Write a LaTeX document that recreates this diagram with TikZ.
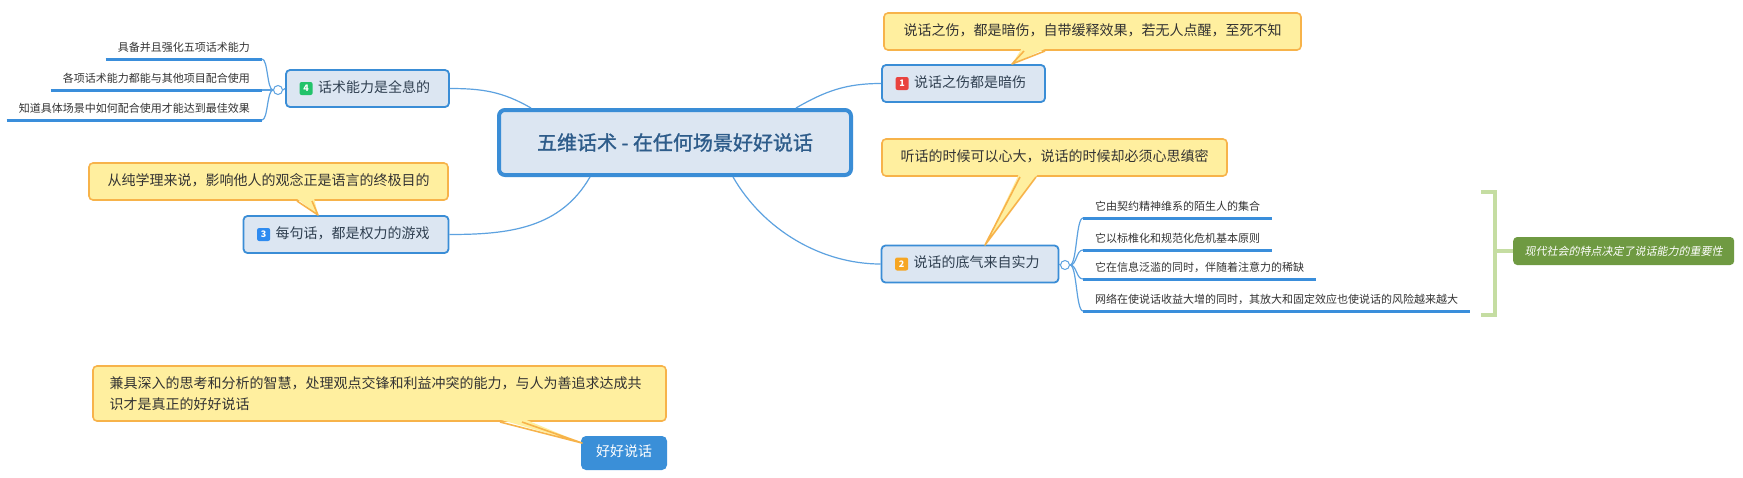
\documentclass[tikz,border=0pt]{standalone}
\usepackage{fontspec}
\newfontfamily\cjk{Noto Sans CJK SC}
\newfontfamily\cjkheavy[FakeBold=1.2]{Noto Sans CJK SC}
\newfontfamily\cjkit[FakeSlant=0.2]{Noto Sans CJK SC}
\usetikzlibrary{calc}
\definecolor{linkblue}{HTML}{5DA2E0}
\definecolor{topicfill}{HTML}{DCE6F2}
\definecolor{topicdraw}{HTML}{3A8DD6}
\definecolor{topictext}{HTML}{2F3F50}
\definecolor{centertext}{HTML}{2E5C8A}
\definecolor{notefill}{HTML}{FFEF9F}
\definecolor{notedraw}{HTML}{F7B34A}
\definecolor{notetext}{HTML}{333333}
\definecolor{ulblue}{HTML}{3A8EDB}
\definecolor{brk}{HTML}{C5DDA2}
\definecolor{sumfill}{HTML}{6F9A42}
\definecolor{bred}{HTML}{E9433F}
\definecolor{borange}{HTML}{F6A623}
\definecolor{bblue}{HTML}{2E8BF0}
\definecolor{bgreen}{HTML}{22C36A}
\definecolor{endfill}{HTML}{3A8FD8}
\begin{document}
\begin{tikzpicture}[x=1pt,y=-1pt,
  centerbox/.style={draw=topicdraw, line width=4pt, fill=topicfill, rounded corners=6pt,
    minimum width=352pt, minimum height=65pt, inner sep=0pt, text=centertext,
    font={\cjkheavy\fontsize{20}{24}\selectfont}},
  topic/.style={draw=topicdraw, line width=1.8pt, fill=topicfill, rounded corners=4pt,
    minimum height=37pt, inner xsep=19pt, inner ysep=0pt, text=topictext,
    text height=0.85em, text depth=0.1em,
    font={\cjk\fontsize{14}{17}\selectfont}},
  badge/.style={fill=#1, rounded corners=2pt, minimum size=13pt, inner sep=0pt,
    text=white, font={\cjk\bfseries\fontsize{9}{10}\selectfont}},
  note/.style={draw=notedraw, line width=1.6pt, fill=notefill, rounded corners=4pt,
    minimum height=37pt, inner sep=0pt, text=notetext,
    text height=0.85em, text depth=0.1em,
    font={\cjk\fontsize{14}{17}\selectfont}},
  notetip/.style={fill=notefill},
  notetipline/.style={draw=notedraw, line width=1.6pt, line join=round},
  sub/.style={inner xsep=12pt, inner ysep=7pt, text height=0.85em, text depth=0pt,
    text=notetext, font={\cjk\fontsize{11}{13}\selectfont}},
  uline/.style={draw=ulblue, line width=3pt},
  link/.style={draw=linkblue, line width=1.2pt},
  knob/.style={circle, draw=linkblue, line width=1pt, fill=white, minimum size=9pt, inner sep=0pt},
  bracketline/.style={draw=brk, line width=4pt},
  summary/.style={fill=sumfill, rounded corners=4pt, minimum width=221pt, minimum height=28pt,
    inner sep=0pt, text=white, font={\cjkit\fontsize{11}{13}\selectfont}},
  endnode/.style={fill=endfill, rounded corners=5pt, minimum width=86pt, minimum height=34pt,
    inner sep=0pt, text=white, text height=0.85em, text depth=0.1em,
    font={\cjk\fontsize{14}{17}\selectfont}}
]
\useasboundingbox[fill=white] (0,0) rectangle (1743,477);

% central topic
\node[centerbox] (c) at (675,142.5) {五维话术 - 在任何场景好好说话};

% main topics
\node[topic, minimum width=161pt] (n1) at (963.5,83.5) {\hspace*{13pt}说话之伤都是暗伤};
\node[badge=bred] (b1) at ($(n1.west)+(21,0)$) {1};
\node[topic, minimum width=161pt] (n4) at (367.5,88.5) {\hspace*{13pt}话术能力是全息的};
\node[badge=bgreen] (b4) at ($(n4.west)+(21,0)$) {4};
\node[topic, minimum width=204pt] (n3) at (346,234.5) {\hspace*{13pt}每句话，都是权力的游戏};
\node[badge=bblue] (b3) at ($(n3.west)+(21,0)$) {3};
\node[topic, minimum width=174pt] (n2) at (970,264) {\hspace*{13pt}说话的底气来自实力};
\node[badge=borange] (b2) at ($(n2.west)+(21,0)$) {2};

% connectors from central topic
\draw[link] ($(c.north west)+(34,0)$) to[out=150,in=0] (n4.east);
\draw[link] ($(c.north east)+(-57,0)$) to[out=30,in=180] (n1.west);
\draw[link] ($(c.south west)+(93,0)$) to[out=-120,in=0] (n3.east);
\draw[link] ($(c.south west)+(236,0)$) to[out=-60,in=180,looseness=0.9] (n2.west);

% notes (callouts)
\node[note, minimum width=417pt] (m1) at (1092.5,31.5) {说话之伤，都是暗伤，自带缓释效果，若无人点醒，至死不知};
\fill[notetip] (1022,48) -- (1012,64) -- (1047,48) -- cycle;
\draw[notetipline] (1024,51) -- (1012,64) -- (1045,51);

\node[note, minimum width=359pt] (m3) at (268.5,181.5) {从纯学理来说，影响他人的观念正是语言的终极目的};
\fill[notetip] (296,198) -- (318,215) -- (314,198) -- cycle;
\draw[notetipline] (297,201) -- (318,215) -- (312,201);

\node[note, minimum width=345pt] (m2) at (1054.5,157.5) {听话的时候可以心大，说话的时候却必须心思缜密};
\fill[notetip] (1019,174) -- (985,245) -- (1038,174) -- cycle;
\draw[notetipline] (1020,177) -- (985,245) -- (1036,177);

% subtopics of topic 4
\node[sub, anchor=south east] (s41) at (262,59) {具备并且强化五项话术能力};
\node[sub, anchor=south east] (s42) at (262,90) {各项话术能力都能与其他项目配合使用};
\node[sub, anchor=south east] (s43) at (262,120) {知道具体场景中如何配合使用才能达到最佳效果};
\foreach \s in {s41,s42,s43} \draw[uline] (\s.south west) -- (\s.south east);
\node[knob] (k4) at (278,90) {};
\draw[link] (n4.west) -- (k4.east);
\draw[link] (k4.west) .. controls +(-6,0) and +(6,0) .. (s41.south east);
\draw[link] (k4.west) -- (s42.south east);
\draw[link] (k4.west) .. controls +(-6,0) and +(6,0) .. (s43.south east);

% subtopics of topic 2
\node[sub, anchor=south west] (s21) at (1083,218) {它由契约精神维系的陌生人的集合};
\node[sub, anchor=south west] (s22) at (1083,250) {它以标椎化和规范化危机基本原则};
\node[sub, anchor=south west] (s23) at (1083,279) {它在信息泛滥的同时，伴随着注意力的稀缺};
\node[sub, anchor=south west] (s24) at (1083,311) {网络在使说话收益大增的同时，其放大和固定效应也使说话的风险越来越大};
\foreach \s in {s21,s22,s23,s24} \draw[uline] (\s.south west) -- (\s.south east);
\node[knob] (k2) at (1065,265) {};
\draw[link] (n2.east) -- (k2.west);
\foreach \s in {s21,s22,s23,s24}
  \draw[link] (k2.east) .. controls +(7,0) and +(-7,0) .. (\s.south west);

% summary bracket
\coordinate (bt) at (1481,192);
\coordinate (bb) at (1481,315);
\coordinate (bm) at (1495,251);
\draw[bracketline] (bt) -- (1495,192) -- (1495,315) -- (bb);
\node[summary, anchor=west] (sm) at (1513,251) {现代社会的特点决定了说话能力的重要性};
\draw[bracketline] (bm) -- (sm.west);

% floating topic with note
\node[endnode] (e) at (624,453) {好好说话};
\node[note, minimum width=573pt, minimum height=55pt, text width=540pt, align=left,
  text height=, text depth=, font={\cjk\fontsize{14}{21}\selectfont}] (mb) at (379.5,393.5)
  {兼具深入的思考和分析的智慧，处理观点交锋和利益冲突的能力，与人为善追求达成共\\识才是真正的好好说话};
\fill[notetip] (498,419) -- (582,443) -- (524,419) -- cycle;
\draw[notetipline] (500,422) -- (582,443) -- (522,422);
\end{tikzpicture}
\end{document}
